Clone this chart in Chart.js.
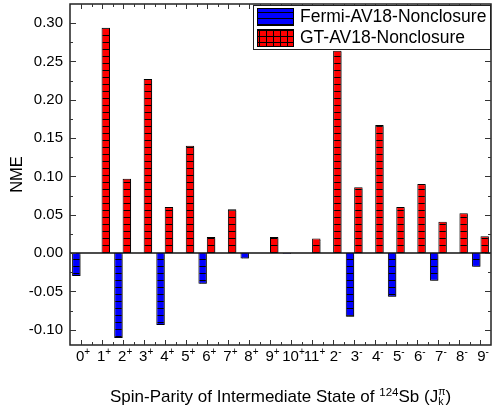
<!DOCTYPE html>
<html>
<head>
<meta charset="utf-8">
<script src="https://cdn.jsdelivr.net/npm/chart.js@4.4.0/dist/chart.umd.min.js"></script>
<style>
  html, body { margin: 0; padding: 0; background: #fff; }
  #wrap { position: relative; width: 492px; height: 412px; }
</style>
</head>
<body>
<div id="wrap"><canvas id="nmeChart"></canvas></div>
<script>
// Intermediate states of 124Sb, last char is the parity (drawn as superscript)
const categories = ['0+', '1+', '2+', '3+', '4+', '5+', '6+', '7+', '8+', '9+', '10+', '11+',
                    '2-', '3-', '4-', '5-', '6-', '7-', '8-', '9-'];
const fermiValues = [-0.030, null, -0.111, null, -0.094, null, -0.040, null, -0.007, null, -0.001, null,
                     null, -0.083, null, -0.057, null, -0.036, null, -0.018];
const gtValues = [null, 0.294, 0.097, 0.227, 0.060, 0.140, 0.021, 0.057, null, 0.021, null, 0.019,
                  0.264, 0.086, 0.167, 0.060, 0.090, 0.041, 0.052, 0.022];
const yTicks = [-0.10, -0.05, 0.00, 0.05, 0.10, 0.15, 0.20, 0.25, 0.30];
const seriesNames = ['Fermi-AV18-Nonclosure', 'GT-AV18-Nonclosure'];

const FONT = '"Liberation Sans", Arial, sans-serif';
const canvas = document.getElementById('nmeChart');
const mainCtx = canvas.getContext('2d');

// hatch patterns like the origin-style fills
function makePattern(fill, w, h, grid) {
    const c = document.createElement('canvas');
    c.width = w;
    c.height = h;
    const g = c.getContext('2d');
    g.fillStyle = fill;
    g.fillRect(0, 0, w, h);
    g.fillStyle = '#000';
    g.fillRect(0, 0, w, 1);
    if (grid) g.fillRect(0, 0, 1, h);
    return mainCtx.createPattern(c, 'repeat');
}
const bluePattern = makePattern('#0000ff', 8, 7, false);
const redPattern = makePattern('#ff0000', 8, 7, false);   // bars are one cell wide
const redLegendPattern = makePattern('#ff0000', 7, 6, true);
const blueLegendPattern = makePattern('#0000ff', 8, 6, false);

function drawSup(ctx, parts, startX, baseline) {
    let x = startX;
    parts.forEach(p => {
        ctx.font = p.size + 'px ' + FONT;
        ctx.fillText(p.t, x, baseline + (p.dy || 0));
        x += p.adv !== undefined ? p.adv : ctx.measureText(p.t).width;
    });
}
function partsWidth(ctx, parts) {
    let w = 0;
    parts.forEach(p => {
        ctx.font = p.size + 'px ' + FONT;
        w += p.adv !== undefined ? p.adv : ctx.measureText(p.t).width;
    });
    return w;
}

const framePlugin = {
    id: 'framePlugin',
    beforeDatasetsDraw(chart) {
        const ctx = chart.ctx;
        ctx.save();
        ctx.shadowColor = 'rgba(0,0,0,0.45)';
        ctx.shadowOffsetX = 1.5;
        ctx.shadowOffsetY = 1.5;
        ctx.shadowBlur = 0;
    },
    afterDatasetsDraw(chart) {
        const ctx = chart.ctx;
        ctx.restore();
        const area = chart.chartArea;
        const xs = chart.scales.x;
        const ys = chart.scales.y;
        const step = xs.getPixelForValue(1) - xs.getPixelForValue(0);

        ctx.save();
        // zero line
        ctx.strokeStyle = '#111';
        ctx.lineWidth = 1.5;
        ctx.beginPath();
        ctx.moveTo(area.left, ys.getPixelForValue(0));
        ctx.lineTo(area.right, ys.getPixelForValue(0));
        ctx.stroke();

        // frame
        ctx.strokeStyle = '#222';
        ctx.lineWidth = 1.5;
        ctx.strokeRect(area.left, area.top, area.right - area.left, area.bottom - area.top);

        // ticks
        ctx.strokeStyle = '#333';
        ctx.lineWidth = 1;
        ctx.beginPath();
        yTicks.forEach((v, i) => {
            const py = Math.round(ys.getPixelForValue(v)) + 0.5;
            ctx.moveTo(area.left, py); ctx.lineTo(area.left + 6, py);
            ctx.moveTo(area.right, py); ctx.lineTo(area.right - 6, py);
            if (i < yTicks.length - 1) {
                const my = Math.round(ys.getPixelForValue((v + yTicks[i + 1]) / 2)) + 0.5;
                ctx.moveTo(area.left, my); ctx.lineTo(area.left + 3, my);
                ctx.moveTo(area.right, my); ctx.lineTo(area.right - 3, my);
            }
        });
        const lowMinor = Math.round(ys.getPixelForValue(yTicks[0] - 0.025)) + 0.5;
        if (lowMinor < area.bottom) {
            ctx.moveTo(area.left, lowMinor); ctx.lineTo(area.left + 3, lowMinor);
            ctx.moveTo(area.right, lowMinor); ctx.lineTo(area.right - 3, lowMinor);
        }
        categories.forEach((c, i) => {
            const px = Math.round(xs.getPixelForValue(i)) + 0.5;
            ctx.moveTo(px, area.bottom); ctx.lineTo(px, area.bottom - 5);
            ctx.moveTo(px, area.top); ctx.lineTo(px, area.top + 5);
            if (i > 0) {
                const bx = Math.round(px - step / 2) + 0.5;
                ctx.moveTo(bx, area.bottom); ctx.lineTo(bx, area.bottom - 3);
                ctx.moveTo(bx, area.top); ctx.lineTo(bx, area.top + 3);
            }
        });
        ctx.stroke();

        // y tick labels
        ctx.fillStyle = '#000';
        ctx.font = '15px ' + FONT;
        ctx.textAlign = 'right';
        ctx.textBaseline = 'middle';
        yTicks.forEach(v => {
            ctx.fillText(v.toFixed(2), area.left - 7, ys.getPixelForValue(v));
        });

        // x tick labels with superscript parity
        ctx.textAlign = 'left';
        ctx.textBaseline = 'alphabetic';
        categories.forEach((c, i) => {
            const parts = [{t: c.slice(0, -1), size: 15}, {t: c.slice(-1), size: 10, dy: -6}];
            const w = partsWidth(ctx, parts);
            drawSup(ctx, parts, xs.getPixelForValue(i) - w / 2 + 2.5, area.bottom + 16);
        });

        // axis titles
        ctx.save();
        ctx.translate(17, (area.top + area.bottom) / 2);
        ctx.rotate(-Math.PI / 2);
        ctx.textAlign = 'center';
        ctx.textBaseline = 'middle';
        ctx.font = '16.5px ' + FONT;
        ctx.fillText('NME', 0, 0);
        ctx.restore();

        ctx.font = '10.5px ' + FONT;
        const kw = Math.max(ctx.measureText('k').width, ctx.measureText('\u03c0').width);
        const title = [
            {t: 'Spin-Parity of Intermediate State of ', size: 17},
            {t: '124', size: 11.5, dy: -6.5},
            {t: 'Sb (J', size: 17},
            {t: '\u03c0', size: 10.5, dy: -7, adv: 0},
            {t: 'k', size: 10.5, dy: 3, adv: kw},
            {t: ')', size: 17}
        ];
        const tw = partsWidth(ctx, title);
        drawSup(ctx, title, (area.left + area.right) / 2 - tw / 2, 402);
        ctx.restore();
    },
    afterDraw(chart) {
        // legend box in the upper right corner
        const ctx = chart.ctx;
        const area = chart.chartArea;
        const lx = 253, ly = 5, lw = area.right - lx, lh = 45;
        ctx.save();
        ctx.fillStyle = '#fff';
        ctx.fillRect(lx, ly, lw, lh);
        ctx.strokeStyle = '#222';
        ctx.lineWidth = 1;
        ctx.strokeRect(lx + 0.5, ly + 0.5, lw - 1, lh - 1);
        const fills = [blueLegendPattern, redLegendPattern];
        ctx.font = '17.5px ' + FONT;
        ctx.textBaseline = 'middle';
        seriesNames.forEach((name, i) => {
            const sy = ly + 3 + i * 21;
            ctx.fillStyle = fills[i];
            ctx.fillRect(257, sy, 37, 18);
            ctx.strokeStyle = '#000';
            ctx.strokeRect(257.5, sy + 0.5, 36, 17);
            ctx.fillStyle = '#000';
            ctx.fillText(name, 300, sy + 9.5);
        });
        ctx.restore();
    }
};

new Chart(canvas, {
    type: 'bar',
    data: {
        labels: categories,
        datasets: [{
            label: seriesNames[0],
            data: fermiValues,
            backgroundColor: bluePattern,
            borderColor: '#000',
            borderWidth: 1
        }, {
            label: seriesNames[1],
            data: gtValues,
            backgroundColor: redPattern,
            borderColor: '#000',
            borderWidth: 1
        }]
    },
    options: {
        responsive: true,
        maintainAspectRatio: false,
        animation: false,
        categoryPercentage: 0.8,
        barPercentage: 1.0,
        layout: { padding: { left: 70, right: 1, top: 4, bottom: 67 } },
        plugins: {
            legend: { display: false },
            tooltip: { enabled: false }
        },
        scales: {
            x: { display: false },
            y: { display: false, min: -0.12, max: 0.325 }
        }
    },
    plugins: [framePlugin]
});
</script>
</body>
</html>
